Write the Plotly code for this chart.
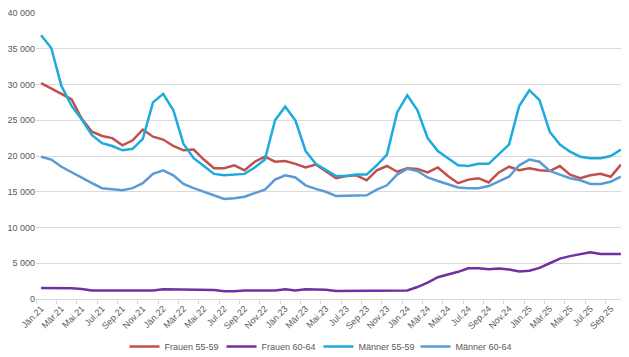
import plotly.graph_objects as go

months = ["Jän", "Feb", "Mär", "Apr", "Mai", "Jun", "Jul", "Aug", "Sep", "Okt", "Nov", "Dez"]
years = ["21", "22", "23", "24", "25"]
categories = [f"{m}.{y}" for y in years for m in months][:58]

frauen_55_59 = [30200, 29500, 28700, 27900, 25200, 23400, 22800, 22500, 21500, 22200, 23700, 22700,
                22300, 21400, 20800, 20900, 19500, 18300, 18300, 18700, 18000, 19200, 19900, 19200,
                19300, 18900, 18400, 18800, 17800, 16900, 17200, 17300, 16600, 18000, 18600, 17800,
                18300, 18200, 17700, 18400, 17200, 16200, 16700, 16900, 16300, 17700, 18500, 18000,
                18300, 18000, 17900, 18600, 17400, 16900, 17300, 17500, 17100, 18800]
frauen_60_64 = [1530, 1530, 1530, 1520, 1400, 1200, 1200, 1200, 1200, 1200, 1200, 1200,
                1350, 1350, 1350, 1350, 1250, 1250, 1080, 1080, 1200, 1200, 1200, 1200,
                1350, 1200, 1350, 1300, 1300, 1110, 1110, 1110, 1200, 1200, 1200, 1110,
                1200, 1670, 2300, 3050, 3400, 3800, 4300, 4300, 4170, 4250, 4120, 3850,
                3950, 4350, 5000, 5650, 6000, 6300, 6550, 6300, 6300, 6300]
maenner_55_59 = [36900, 35100, 29800, 27000, 25100, 22900, 21800, 21400, 20800, 21000, 22400, 27500,
                 28700, 26400, 21700, 19700, 18600, 17500, 17300, 17400, 17500, 18400, 19500, 25000,
                 26900, 25000, 20700, 18900, 18000, 17200, 17200, 17400, 17400, 18700, 20200, 26100,
                 28500, 26400, 22500, 20700, 19700, 18700, 18600, 18900, 18900, 20200, 21600, 27000,
                 29200, 27800, 23400, 21600, 20600, 19900, 19700, 19700, 20000, 20900]
maenner_60_64 = [19900, 19500, 18500, 17700, 17000, 16200, 15500, 15400, 15200, 15500, 16200, 17500,
                 18000, 17300, 16100, 15500, 15000, 14400, 14000, 14100, 14300, 14800, 15300, 16700,
                 17300, 17000, 15900, 15400, 15000, 14400, 14400, 14400, 14500, 15300, 15900, 17400,
                 18200, 17900, 17000, 16500, 16000, 15600, 15500, 15500, 15800, 16400, 17100, 18700,
                 19500, 19200, 17900, 17400, 16900, 16600, 16100, 16100, 16400, 17100]

y_ticks = [0, 5000, 10000, 15000, 20000, 25000, 30000, 35000, 40000]

x = list(range(len(categories)))
series = [
    ("Frauen 55-59", frauen_55_59, "#C0504D"),
    ("Frauen 60-64", frauen_60_64, "#7030A0"),
    ("Männer 55-59", maenner_55_59, "#1DABDE"),
    ("Männer 60-64", maenner_60_64, "#5B9BD5"),
]

fig = go.Figure()
for name, vals, col in series:
    fig.add_trace(go.Scatter(x=x, y=vals, name=name, mode="lines",
                             line=dict(color=col, width=2.5)))

font = dict(family="Liberation Sans, Arial, sans-serif", size=9, color="#595959")
fig.update_layout(
    width=621, height=349,
    margin=dict(l=28, r=3, t=5, b=58, autoexpand=False),
    paper_bgcolor="white", plot_bgcolor="white",
    font=font,
    separators=", ",
    showlegend=True,
    legend=dict(orientation="h", x=0.5, xanchor="center", xref="container",
                y=0.03, yanchor="middle", yref="container",
                font=dict(family="Liberation Sans, Arial, sans-serif", size=9, color="#595959"),
                itemwidth=30, entrywidth=52, entrywidthmode="pixels", tracegroupgap=0),
    xaxis=dict(
        range=[-0.5, len(categories) - 0.5],
        tickvals=x[::2], ticktext=categories[::2],
        tickangle=-45, ticks="", showgrid=False, zeroline=False, automargin=False,
        showline=True, linecolor="#D9D9D9", linewidth=1,
        minor=dict(ticks="outside", tick0=-0.5, dtick=2, ticklen=4, tickcolor="#D9D9D9", showgrid=False),
        tickfont=font, ticklabeloverflow="allow",
    ),
    yaxis=dict(
        range=[0, 40000], tickvals=y_ticks, tickformat=",d", automargin=False,
        showgrid=True, gridcolor="#D9D9D9", gridwidth=1, zeroline=False,
        showline=False, ticks="", tickfont=font, ticklabeloverflow="allow",
    ),
)

fig.write_html("out.html")
